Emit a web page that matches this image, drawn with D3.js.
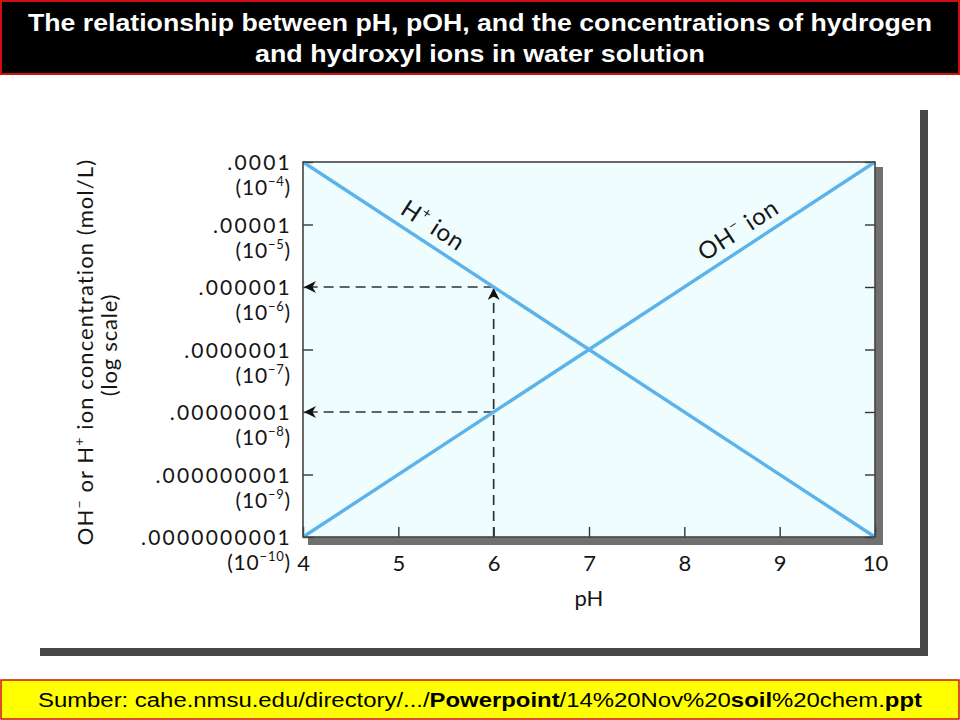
<!DOCTYPE html>
<html>
<head>
<meta charset="utf-8">
<script src="https://cdn.jsdelivr.net/npm/d3@7"></script>
<style>
  html, body { margin: 0; padding: 0; background: #ffffff; }
  svg { display: block; }
</style>
</head>
<body>
<svg id="chart" width="960" height="720"></svg>
<script>
// ---- data ----
const titleLines = [
  "The relationship between pH, pOH, and the concentrations of hydrogen",
  "and hydroxyl ions in water solution"
];
const phTicks = [4, 5, 6, 7, 8, 9, 10];
const concExponents = [-4, -5, -6, -7, -8, -9, -10];
const concLabels = [".0001", ".00001", ".000001", ".0000001", ".00000001", ".000000001", ".0000000001"];
const hIon = [ { ph: 4, c: 1e-4 }, { ph: 10, c: 1e-10 } ];
const ohIon = [ { ph: 4, c: 1e-10 }, { ph: 10, c: 1e-4 } ];
const readings = [ { ph: 6, c: 1e-6 }, { ph: 6, c: 1e-8 } ];
const lineLabels = [
  { base: "H", sup: "+", rest: " ion", ph: 5.26, c: Math.pow(10, -5.26), dir: 1 },
  { base: "OH", sup: "\u2212", rest: " ion", ph: 8.67, c: Math.pow(10, -5.33), dir: -1 }
];
const xTitle = "pH";
const yTitle1 = ["OH", "\u2212", " or H", "+", " ion concentration (mol/L)"];
const yTitle2 = "(log scale)";
const footerParts = [
  { t: "Sumber: cahe.nmsu.edu/directory/.../", b: false },
  { t: "Powerpoint", b: true },
  { t: "/14%20Nov%20", b: false },
  { t: "soil", b: true },
  { t: "%20chem.", b: false },
  { t: "ppt", b: true }
];

// ---- layout ----
const svg = d3.select("#chart");
const X0 = 303, X1 = 875, Y0 = 162, Y1 = 537;
const x = d3.scaleLinear().domain([4, 10]).range([X0, X1]);
const y = d3.scaleLog().domain([1e-10, 1e-4]).range([Y1, Y0]);
const lineColor = "#5cb3ea";
const gFont = "Lato, 'Open Sans', sans-serif";
const ink = "#151515";

// title bar
svg.append("rect").attr("x", 1).attr("y", 1).attr("width", 958).attr("height", 73)
  .attr("fill", "#000").attr("stroke", "#d01010").attr("stroke-width", 2);
const tw = [904, 450];
titleLines.forEach((t, i) => {
  svg.append("text").attr("x", 480).attr("y", 31 + i * 31)
    .attr("text-anchor", "middle")
    .attr("font-family", "'Liberation Sans', Arial, sans-serif")
    .attr("font-weight", "bold").attr("font-size", 24)
    .attr("fill", "#fff")
    .attr("textLength", tw[i]).attr("lengthAdjust", "spacingAndGlyphs")
    .text(t);
});

// outer frame shadow (right + bottom)
svg.append("rect").attr("x", 920).attr("y", 110).attr("width", 8).attr("height", 546).attr("fill", "#474747");
svg.append("rect").attr("x", 40).attr("y", 648).attr("width", 888).attr("height", 8).attr("fill", "#474747");

// plot shadow
svg.append("rect").attr("x", X1).attr("y", Y0 + 5).attr("width", 8).attr("height", Y1 - Y0 + 3).attr("fill", "#707070");
svg.append("rect").attr("x", X0 + 5).attr("y", Y1).attr("width", X1 - X0 + 3).attr("height", 8).attr("fill", "#707070");

// plot background
svg.append("rect").attr("x", X0).attr("y", Y0).attr("width", X1 - X0).attr("height", Y1 - Y0)
  .attr("fill", "#effdff");

// defs: arrowheads
const defs = svg.append("defs");
defs.append("marker").attr("id", "arr").attr("viewBox", "0 0 10 10")
  .attr("refX", 10).attr("refY", 5).attr("markerWidth", 16).attr("markerHeight", 12)
  .attr("markerUnits", "userSpaceOnUse").attr("orient", "auto")
  .append("path").attr("d", "M0,0 L10,5 L0,10 L3,5 Z").attr("fill", "#111");

// axes (inward ticks)
const tickStyle = g => {
  g.select(".domain").remove();
  g.selectAll(".tick line").attr("stroke", "#333").attr("stroke-width", 1.4);
};
svg.append("g").attr("transform", `translate(${X0},0)`)
  .call(d3.axisLeft(y).tickValues(concExponents.map(e => Math.pow(10, e))).tickSize(-10).tickFormat(""))
  .call(tickStyle);
svg.append("g").attr("transform", `translate(${X1},0)`)
  .call(d3.axisRight(y).tickValues(concExponents.map(e => Math.pow(10, e))).tickSize(-10).tickFormat(""))
  .call(tickStyle);
const xAxis = svg.append("g").attr("transform", `translate(0,${Y1})`)
  .call(d3.axisBottom(x).tickValues(phTicks).tickSize(-10).tickPadding(18).tickFormat(d3.format("d")))
  .call(tickStyle);
xAxis.selectAll(".tick text").attr("font-family", gFont).attr("font-size", 22).attr("fill", ink);

// y tick labels
const yl = svg.append("g").attr("font-family", gFont).attr("fill", ink).attr("font-size", 21);
concExponents.forEach((e, i) => {
  const ty = y(Math.pow(10, e));
  yl.append("text").attr("x", 292).attr("y", ty + 8).attr("text-anchor", "end")
    .attr("letter-spacing", 2.2).text(concLabels[i]);
  const t2 = yl.append("text").attr("x", 291).attr("y", ty + 33).attr("text-anchor", "end")
    .attr("letter-spacing", 0.8);
  t2.append("tspan").text("(10");
  t2.append("tspan").attr("font-size", 13).attr("dy", -9).text("\u2212" + Math.abs(e));
  t2.append("tspan").attr("dy", 9).text(")");
});

// axis titles
svg.append("text").attr("x", x(7)).attr("y", 606).attr("text-anchor", "middle")
  .attr("font-family", gFont).attr("font-size", 22).attr("fill", ink).text(xTitle);
const yt = svg.append("text").attr("transform", "translate(93,352) rotate(-90)")
  .attr("text-anchor", "middle").attr("font-family", gFont).attr("font-size", 22)
  .attr("letter-spacing", 1.1).attr("fill", ink);
yTitle1.forEach((p, i) => {
  const sp = yt.append("tspan").text(p);
  if (i % 2 === 1) sp.attr("font-size", 14).attr("dy", -9);
  else if (i > 0) sp.attr("dy", 9);
});
svg.append("text").attr("transform", "translate(117,345) rotate(-90)")
  .attr("text-anchor", "middle").attr("font-family", gFont).attr("font-size", 22)
  .attr("letter-spacing", 0.8).attr("fill", ink)
  .text(yTitle2);

// dashed reading lines
const dash = "10,6";
const rg = svg.append("g").attr("stroke", "#333").attr("stroke-width", 1.7).attr("fill", "none");
const highest = readings.reduce((a, b) => (a.c > b.c ? a : b));
rg.append("line").attr("x1", x(highest.ph)).attr("y1", Y1).attr("x2", x(highest.ph)).attr("y2", y(highest.c) + 1)
  .attr("stroke-dasharray", dash).attr("marker-end", "url(#arr)");
readings.forEach(r => {
  rg.append("line").attr("x1", x(r.ph)).attr("y1", y(r.c)).attr("x2", X0 + 1).attr("y2", y(r.c))
    .attr("stroke-dasharray", dash).attr("marker-end", "url(#arr)");
});

// ion lines
const lineGen = d3.line().x(d => x(d.ph)).y(d => y(d.c));
[hIon, ohIon].forEach(s => {
  svg.append("path").datum(s).attr("d", lineGen).attr("fill", "none")
    .attr("stroke", lineColor).attr("stroke-width", 3.4);
});

// plot border
svg.append("rect").attr("x", X0).attr("y", Y0).attr("width", X1 - X0).attr("height", Y1 - Y0)
  .attr("fill", "none").attr("stroke", "#444").attr("stroke-width", 1.6);

// line labels
const ang = Math.atan2(Y1 - Y0, X1 - X0) * 180 / Math.PI;
lineLabels.forEach(l => {
  const t = svg.append("text")
    .attr("transform", `translate(${x(l.ph)},${y(l.c)}) rotate(${l.dir * ang})`)
    .attr("y", -10).attr("text-anchor", "middle")
    .attr("font-family", gFont).attr("font-size", 24).attr("letter-spacing", 0.8).attr("fill", ink);
  t.append("tspan").text(l.base);
  t.append("tspan").attr("font-size", 15).attr("dy", -10).text(l.sup);
  t.append("tspan").attr("dy", 10).text(l.rest);
});

// footer
svg.append("rect").attr("x", 1).attr("y", 680).attr("width", 958).attr("height", 39)
  .attr("fill", "#ffff00").attr("stroke", "#d01010").attr("stroke-width", 1.5);
const ft = svg.append("text").attr("x", 480).attr("y", 707).attr("text-anchor", "middle")
  .attr("font-family", "'Liberation Sans', Arial, sans-serif").attr("font-size", 20).attr("fill", "#000")
  .attr("textLength", 884).attr("lengthAdjust", "spacingAndGlyphs");
footerParts.forEach(p => {
  ft.append("tspan").attr("font-weight", p.b ? "bold" : "normal").text(p.t);
});
</script>
</body>
</html>
